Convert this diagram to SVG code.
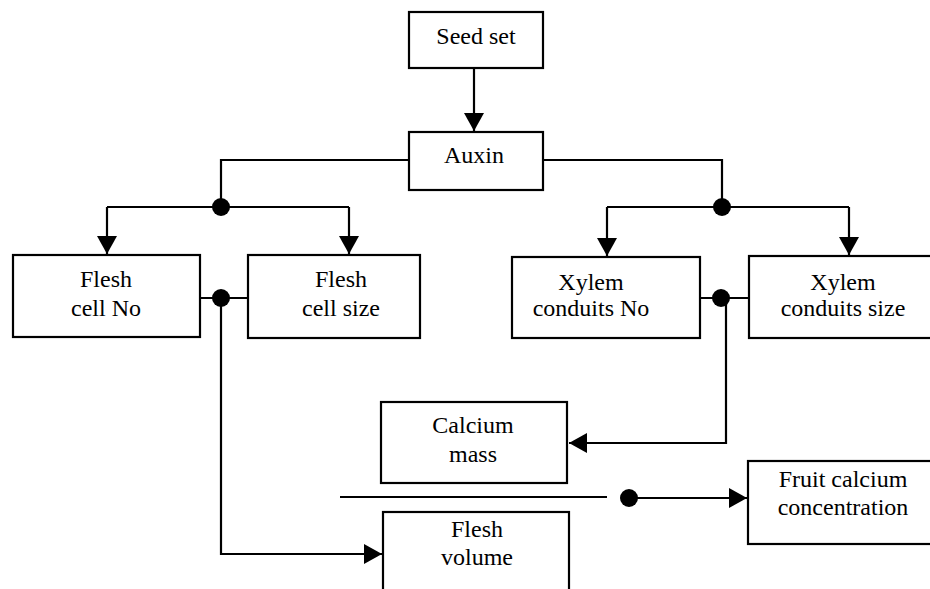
<svg xmlns="http://www.w3.org/2000/svg" width="930" height="589" viewBox="0 0 930 589">
  <style>
    .box { fill: #ffffff; stroke: #000000; stroke-width: 2.2; }
    .lbl { font-family: "Liberation Serif", "Times New Roman", serif; font-size: 24px; fill: #000000; text-anchor: middle; }
    .wire { fill: none; stroke: #000000; stroke-width: 2.2; }
    .arrow { fill: none; stroke: #000000; stroke-width: 2.2; marker-end: url(#head); }
    .dot { fill: #000000; }
  </style>
  <defs>
    <marker id="head" markerUnits="userSpaceOnUse" markerWidth="18" markerHeight="20" refX="18" refY="10" orient="auto">
      <path d="M0,0 L18,10 L0,20 z" fill="#000000"/>
    </marker>
  </defs>
  <rect width="930" height="589" fill="#ffffff"/>

  <!-- connectors -->
  <g id="connectors">
    <line class="arrow" x1="474" y1="68" x2="474" y2="131"/>
    <!-- auxin to flesh branch -->
    <polyline class="wire" points="409,160 221,160 221,207"/>
    <line class="wire" x1="107" y1="207" x2="349" y2="207"/>
    <line class="arrow" x1="107" y1="207" x2="107" y2="254"/>
    <line class="arrow" x1="349" y1="207" x2="349" y2="254"/>
    <circle class="dot" cx="221" cy="207" r="9"/>
    <!-- auxin to xylem branch -->
    <polyline class="wire" points="543,160 722,160 722,207"/>
    <line class="wire" x1="607" y1="207" x2="849" y2="207"/>
    <line class="arrow" x1="607" y1="207" x2="607" y2="256"/>
    <line class="arrow" x1="849" y1="207" x2="849" y2="255"/>
    <circle class="dot" cx="722" cy="207" r="9"/>
    <!-- flesh cells to flesh volume -->
    <line class="wire" x1="200" y1="298" x2="248" y2="298"/>
    <polyline class="arrow" points="221,298 221,554 382,554"/>
    <circle class="dot" cx="221" cy="298" r="9"/>
    <!-- xylem conduits to calcium mass -->
    <line class="wire" x1="700" y1="298" x2="749" y2="298"/>
    <polyline class="arrow" points="726,298 726,443 569,443"/>
    <circle class="dot" cx="721" cy="298" r="9"/>
    <!-- ratio line and result -->
    <line class="wire" x1="340" y1="497" x2="607" y2="497"/>
    <line class="arrow" x1="629" y1="498" x2="747" y2="498"/>
    <circle class="dot" cx="629" cy="498" r="9"/>
  </g>

  <g id="seed-set">
    <rect class="box" x="409" y="12" width="134" height="56"/>
    <text class="lbl" x="476" y="44">Seed set</text>
  </g>

  <g id="auxin">
    <rect class="box" x="409" y="132" width="134" height="58"/>
    <text class="lbl" x="474" y="163">Auxin</text>
  </g>

  <g id="flesh-cell-no">
    <rect class="box" x="13" y="255" width="187" height="82"/>
    <text class="lbl" x="106" y="287">Flesh</text>
    <text class="lbl" x="106" y="316">cell No</text>
  </g>

  <g id="flesh-cell-size">
    <rect class="box" x="248" y="255" width="172" height="83"/>
    <text class="lbl" x="341" y="287">Flesh</text>
    <text class="lbl" x="341" y="316">cell size</text>
  </g>

  <g id="xylem-conduits-no">
    <rect class="box" x="512" y="257" width="188" height="81"/>
    <text class="lbl" x="591" y="290">Xylem</text>
    <text class="lbl" x="591" y="316">conduits No</text>
  </g>

  <g id="xylem-conduits-size">
    <rect class="box" x="749" y="256" width="190" height="82"/>
    <text class="lbl" x="843" y="290">Xylem</text>
    <text class="lbl" x="843" y="316">conduits size</text>
  </g>

  <g id="calcium-mass">
    <rect class="box" x="381" y="402" width="186" height="81"/>
    <text class="lbl" x="473" y="433">Calcium</text>
    <text class="lbl" x="473" y="462">mass</text>
  </g>

  <g id="flesh-volume">
    <rect class="box" x="383" y="512" width="186" height="90"/>
    <text class="lbl" x="477" y="537">Flesh</text>
    <text class="lbl" x="477" y="565">volume</text>
  </g>

  <g id="fruit-calcium-concentration">
    <rect class="box" x="748" y="461" width="195" height="83"/>
    <text class="lbl" x="843" y="487">Fruit calcium</text>
    <text class="lbl" x="843" y="515">concentration</text>
  </g>
</svg>
